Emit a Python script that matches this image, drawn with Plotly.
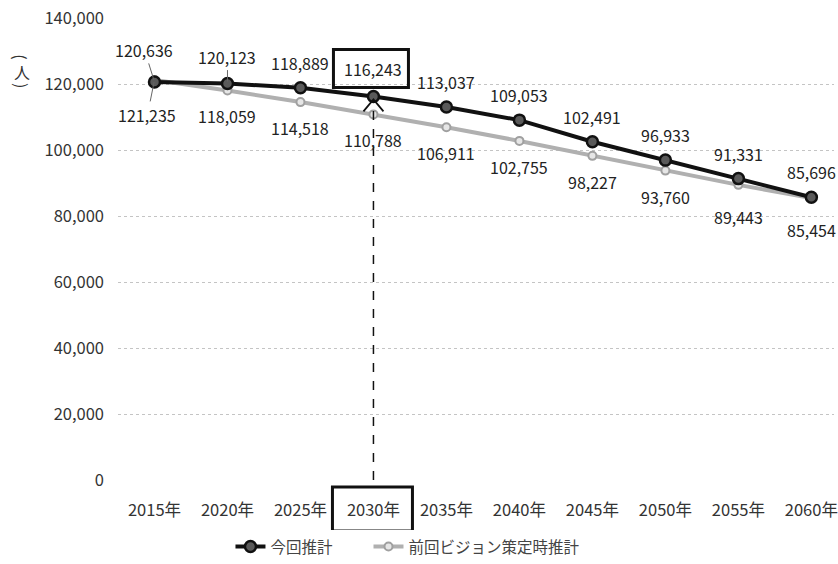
import plotly.graph_objects as go

years = ["2015年", "2020年", "2025年", "2030年", "2035年", "2040年", "2045年", "2050年", "2055年", "2060年"]
current = [120636, 120123, 118889, 116243, 113037, 109053, 102491, 96933, 91331, 85696]
previous = [121235, 118059, 114518, 110788, 106911, 102755, 98227, 93760, 89443, 85454]
name_current = "今回推計"
name_previous = "前回ビジョン策定時推計"
yticks = [0, 20000, 40000, 60000, 80000, 100000, 120000, 140000]
highlight = 3

FONT = "Noto Sans CJK JP"
fig = go.Figure()
fig.add_trace(go.Scatter(
    x=years, y=previous, name=name_previous, mode="lines+markers",
    line=dict(color="#b0b0b0", width=4),
    marker=dict(symbol="circle", size=8, color="#e6e6e6", line=dict(color="#a0a0a0", width=2)),
))
fig.add_trace(go.Scatter(
    x=years, y=current, name=name_current + "\u3000\u3000", mode="lines+markers",
    line=dict(color="#111111", width=4),
    marker=dict(symbol="circle", size=11, color="#5a5a5a", line=dict(color="#111111", width=2.5)),
))

ann = []
for i, (yr, v) in enumerate(zip(years, current)):
    if i == 0:
        ann.append(dict(x=yr, y=v, text=f"{v:,}", showarrow=True, arrowhead=0, arrowwidth=1,
                        arrowcolor="#666", ax=-10, ay=-32, standoff=2))
    elif i == 1:
        ann.append(dict(x=yr, y=v, text=f"{v:,}", showarrow=True, arrowhead=0, arrowwidth=1,
                        arrowcolor="#666", ax=0, ay=-27, standoff=2))
    else:
        ann.append(dict(x=yr, y=v, text=f"{v:,}", showarrow=False, yshift=25 if i != 3 else 27))
for i, (yr, v) in enumerate(zip(years, previous)):
    if i == 0:
        ann.append(dict(x=yr, y=v, text=f"{v:,}", showarrow=True, arrowhead=0, arrowwidth=1,
                        arrowcolor="#666", ax=-7, ay=35, standoff=2))
    else:
        ys = -26 if i < 8 else -32
        ann.append(dict(x=yr, y=v, text=f"{v:,}", showarrow=False, yshift=ys))
for a in ann:
    a["font"] = dict(family=FONT, size=16, color="#222")

# vertical unit label (人) : arcs above and below an upright 人
unit_x = -0.1347
for txt, yy, ang in [("人", 0.884, 0), ("(", 0.916, 90), (")", 0.854, 90)]:
    ann.append(dict(xref="paper", yref="paper", x=unit_x, y=yy, text=txt, textangle=ang,
                    xanchor="center", yanchor="middle", showarrow=False,
                    font=dict(family=FONT, size=16, color="#333")))

shapes = [
    dict(type="line", xref="x", yref="y", x0=years[highlight], x1=years[highlight],
         y0=0, y1=current[highlight] - 1500, line=dict(color="#111", width=1.5, dash="dash")),
    dict(type="path", xref="x", yref="y", xsizemode="pixel", ysizemode="pixel",
         xanchor=years[highlight], yanchor=current[highlight],
         path="M -10,-15 L 0,-3 L 10,-15", line=dict(color="#111", width=1.8)),
    dict(type="rect", xref="x", yref="y", xsizemode="pixel", ysizemode="pixel",
         xanchor=years[highlight], yanchor=current[highlight],
         x0=-40, x1=35, y0=9, y1=47, line=dict(color="#111", width=3)),
    dict(type="rect", xref="x", yref="paper", xsizemode="pixel", ysizemode="pixel",
         xanchor=years[highlight], yanchor=0,
         x0=-41, x1=39, y0=-7, y1=-51, line=dict(color="#111", width=3)),
]

fig.update_layout(
    width=838, height=564,
    margin=dict(l=118, r=0, t=18, b=80),
    paper_bgcolor="white", plot_bgcolor="white",
    font=dict(family=FONT, size=16, color="#333"),
    showlegend=True,
    legend=dict(orientation="h", x=0.405, xanchor="center", y=-0.146, yanchor="middle",
                traceorder="reversed", font=dict(family=FONT, size=15.5, color="#444")),
    annotations=ann, shapes=shapes,
    xaxis=dict(type="category", range=[-0.5, 9.31], showgrid=False, zeroline=False,
               showline=False, ticks="", tickfont=dict(family=FONT, size=16.5, color="#333"),
               ticklabelstandoff=18),
    yaxis=dict(range=[0, 140000], tickvals=yticks, tickformat=",", showgrid=True,
               gridcolor="#c4c4c4", griddash="dot", gridwidth=1, zeroline=False, showline=False,
               tickfont=dict(family=FONT, size=16.5, color="#333"), ticklabelstandoff=13),
)
fig.write_html("out.html")
